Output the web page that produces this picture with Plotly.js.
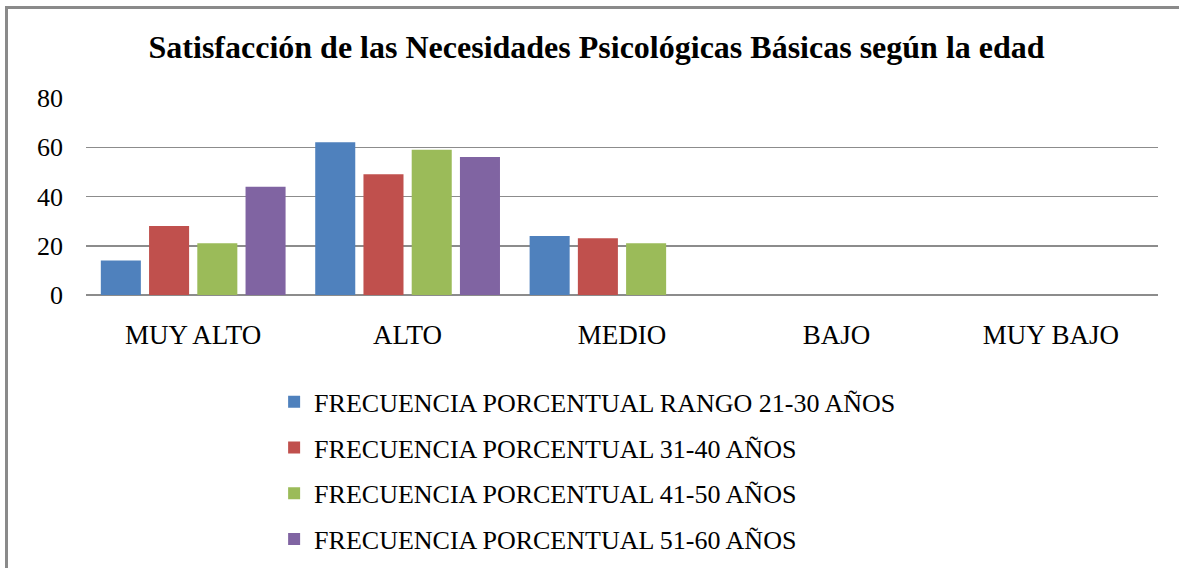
<!DOCTYPE html>
<html>
<head>
<meta charset="utf-8">
<script src="https://cdn.plot.ly/plotly-3.0.1.min.js"></script>
<style>html,body{margin:0;padding:0;background:#fff;}#chart{width:1179px;height:568px;}</style>
</head>
<body>
<div id="chart"></div>
<script>
const categories = ["MUY ALTO", "ALTO", "MEDIO", "BAJO", "MUY BAJO"];
const seriesNames = [
  "FRECUENCIA PORCENTUAL RANGO 21-30 AÑOS",
  "FRECUENCIA PORCENTUAL 31-40 AÑOS",
  "FRECUENCIA PORCENTUAL 41-50 AÑOS",
  "FRECUENCIA PORCENTUAL 51-60 AÑOS"
];
const rango21_30 = [14, 62, 24, 0, 0];
const rango31_40 = [28, 49, 23, 0, 0];
const rango41_50 = [21, 59, 21, 0, 0];
const rango51_60 = [44, 56, 0, 0, 0];
const yTicks = [0, 20, 40, 60, 80];
const colors = ["#4F81BD", "#C0504D", "#9BBB59", "#8064A2"];
const titleText = "Satisfacción de las Necesidades Psicológicas Básicas según la edad";

const allSeries = [rango21_30, rango31_40, rango41_50, rango51_60];
const data = allSeries.map((vals, i) => ({
  type: "bar",
  x: categories,
  y: vals,
  name: seriesNames[i],
  legendgroup: "g" + i,
  marker: {color: colors[i], line: {width: 0}},
  hoverinfo: "x+y+name"
}));

const serif = "Liberation Serif";
const layout = {
  width: 1179,
  height: 568,
  paper_bgcolor: "#ffffff",
  plot_bgcolor: "#ffffff",
  margin: {l: 86, r: 21, t: 98, b: 273, autoexpand: false},
  title: {
    text: titleText,
    font: {family: serif, size: 32, color: "#000", weight: "bold"},
    xref: "container", x: 0.506, xanchor: "center",
    yref: "container", y: 0.917, yanchor: "middle",
    automargin: false
  },
  barmode: "group",
  bargap: 0.1,
  bargroupgap: 0.17,
  showlegend: true,
  legend: {
    orientation: "v",
    traceorder: "grouped",
    tracegroupgap: 9,
    xref: "container", yref: "container",
    x: 0.2325, xanchor: "left",
    y: 0.334, yanchor: "top",
    font: {family: serif, size: 26, color: "#000"},
    bgcolor: "rgba(0,0,0,0)"
  },
  xaxis: {
    type: "category",
    showgrid: false,
    showline: false,
    zeroline: false,
    ticks: "",
    tickangle: 0,
    automargin: false,
    ticklabelstandoff: 21,
    tickfont: {family: serif, size: 27, color: "#000"}
  },
  yaxis: {
    range: [0, 80],
    tickvals: yTicks,
    ticktext: yTicks.map(String),
    showgrid: true,
    gridcolor: "#8c8c8c",
    gridwidth: 1.5,
    zeroline: true,
    zerolinecolor: "#8c8c8c",
    zerolinewidth: 1.5,
    showline: false,
    ticks: "",
    automargin: false,
    ticklabelstandoff: 22,
    tickfont: {family: serif, size: 26, color: "#000"}
  }
};

Plotly.newPlot("chart", data, layout, {displayModeBar: false, staticPlot: true});
</script>
<div style="position:absolute;left:5px;top:6px;width:3px;height:562px;background:#8a8a8a;"></div>
<div style="position:absolute;left:5px;top:6px;width:1174px;height:3px;background:#8a8a8a;"></div>
</body>
</html>
